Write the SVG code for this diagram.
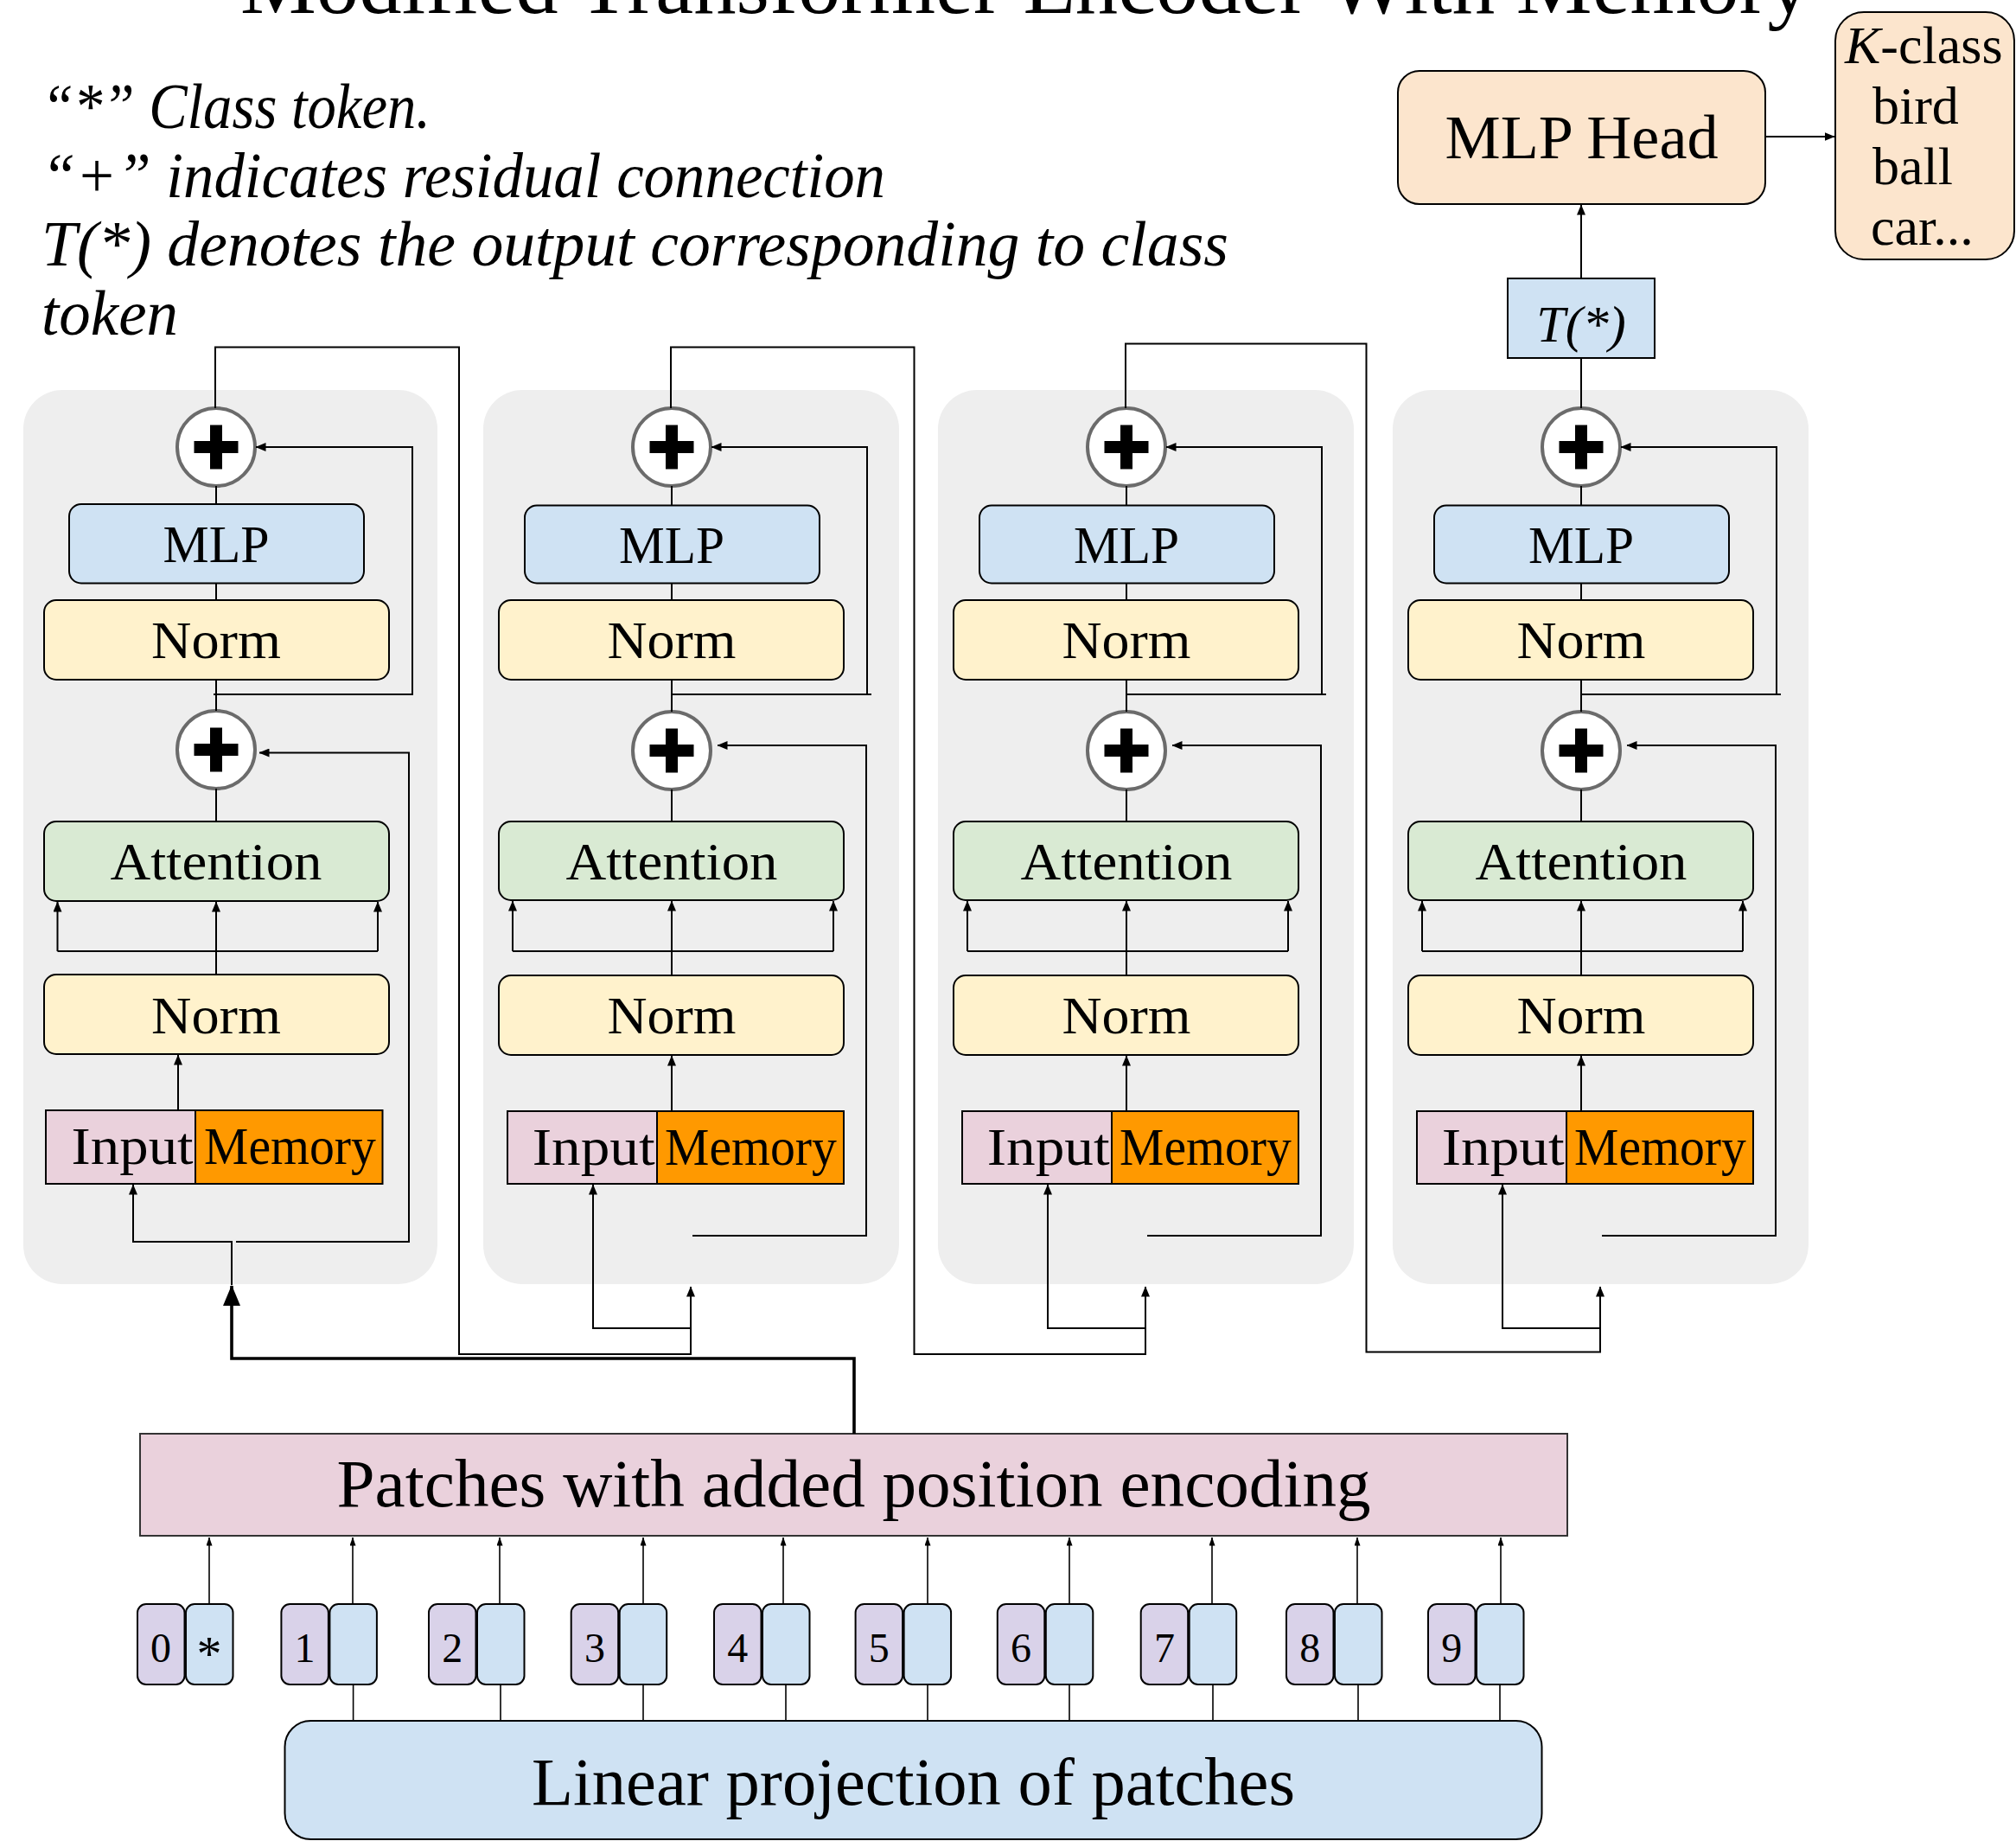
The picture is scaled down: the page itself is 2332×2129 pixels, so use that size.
<svg xmlns="http://www.w3.org/2000/svg" width="2332" height="2129" viewBox="0 0 2332 2129">
<defs>
<style>
.bg{fill:#eeeeee}
.bx{stroke:#000;stroke-width:2}
.mlp{fill:#cfe2f3}
.norm{fill:#fff2cc}
.att{fill:#d9ead3}
.inp{fill:#ead1dc}
.mem{fill:#ff9900}
.pur{fill:#d9d2e9}
.peach{fill:#fce5cd}
.pc{fill:#fff;stroke:#6b6b6b;stroke-width:4}
.pb{fill:#000}
.t{font-family:"Liberation Serif","Times New Roman",serif;fill:#000}
.l{font-size:62px}
.m{text-anchor:middle}
.i{font-style:italic}
.d{font-size:48px}
.c{fill:none;stroke:#000;stroke-width:2}
.cs{fill:none;stroke:#000;stroke-width:1.6}
.ck{fill:none;stroke:#000;stroke-width:3.6}
</style>
<marker id="ah" viewBox="0 0 12 10" refX="11.5" refY="5" markerWidth="12" markerHeight="10" markerUnits="userSpaceOnUse" orient="auto"><path d="M0,0L12,5L0,10z" fill="#000"/></marker>
<marker id="ahs" viewBox="0 0 10 7" refX="9.5" refY="3.5" markerWidth="10" markerHeight="7" markerUnits="userSpaceOnUse" orient="auto"><path d="M0,0L10,3.5L0,7z" fill="#000"/></marker>
<marker id="aht" viewBox="0 0 24 20" refX="23" refY="10" markerWidth="24" markerHeight="20" markerUnits="userSpaceOnUse" orient="auto"><path d="M0,0L24,10L0,20z" fill="#000"/></marker>
<g id="plus"><rect class="pb" x="-25.5" y="-7" width="51" height="14"/><rect class="pb" x="-7" y="-25.5" width="14" height="51"/></g>
</defs>
<rect width="2332" height="2129" fill="#fff"/>

<text class="t" x="278" y="15" font-size="98" textLength="1816" lengthAdjust="spacingAndGlyphs">Modified Transformer Encoder With Memory</text>

<g id="notes" class="t i" font-size="73">
<text x="48" y="148" textLength="450" lengthAdjust="spacingAndGlyphs">“*” Class token.</text>
<text x="48" y="228" textLength="976" lengthAdjust="spacingAndGlyphs">“+” indicates residual connection</text>
<text x="48" y="307" textLength="1373" lengthAdjust="spacingAndGlyphs">T(*) denotes the output corresponding to class</text>
<text x="48" y="387" textLength="158" lengthAdjust="spacingAndGlyphs">token</text>
</g>

<!-- Block 1 -->
<g id="block1">
<rect class="bg" x="27" y="451" width="479" height="1034" rx="45"/>
<g id="b1-add2"><circle class="pc" cx="250" cy="517" r="45"/><use href="#plus" x="250" y="517"/></g>
<g id="b1-mlp"><rect class="bx mlp" x="80" y="583" width="341" height="91.5" rx="14"/><text class="t l m" x="250" y="650" textLength="123" lengthAdjust="spacingAndGlyphs">MLP</text></g>
<g id="b1-norm2"><rect class="bx norm" x="51" y="694" width="399" height="92" rx="14"/><text class="t l m" x="250" y="760.5" textLength="150" lengthAdjust="spacingAndGlyphs">Norm</text></g>
<g id="b1-add1"><circle class="pc" cx="250" cy="867" r="45"/><use href="#plus" x="250" y="867"/></g>
<g id="b1-att"><rect class="bx att" x="51" y="950" width="399" height="92" rx="14"/><text class="t l m" x="250" y="1017" textLength="245" lengthAdjust="spacingAndGlyphs">Attention</text></g>
<g id="b1-norm1"><rect class="bx norm" x="51" y="1127" width="399" height="92" rx="14"/><text class="t l m" x="250" y="1194.5" textLength="150" lengthAdjust="spacingAndGlyphs">Norm</text></g>
<g id="b1-input"><rect class="bx inp" x="53" y="1284" width="173" height="85"/><text class="t l" x="82.6" y="1346" textLength="141" lengthAdjust="spacingAndGlyphs">Input</text></g>
<g id="b1-memory"><rect class="bx mem" x="226" y="1284" width="216.5" height="85"/><text class="t l" x="236" y="1346" textLength="199" lengthAdjust="spacingAndGlyphs">Memory</text></g>
</g>

<!-- Block 2 -->
<g id="block2">
<rect class="bg" x="559" y="451" width="481" height="1034" rx="45"/>
<g id="b2-add2"><circle class="pc" cx="777" cy="517" r="45"/><use href="#plus" x="777" y="517"/></g>
<g id="b2-mlp"><rect class="bx mlp" x="607" y="584.5" width="341" height="90" rx="14"/><text class="t l m" x="777" y="651" textLength="122" lengthAdjust="spacingAndGlyphs">MLP</text></g>
<g id="b2-norm2"><rect class="bx norm" x="577" y="694" width="399" height="92" rx="14"/><text class="t l m" x="777" y="760.5" textLength="149" lengthAdjust="spacingAndGlyphs">Norm</text></g>
<g id="b2-add1"><circle class="pc" cx="777" cy="868" r="45"/><use href="#plus" x="777" y="868"/></g>
<g id="b2-att"><rect class="bx att" x="577" y="950" width="399" height="91" rx="14"/><text class="t l m" x="777" y="1017" textLength="245" lengthAdjust="spacingAndGlyphs">Attention</text></g>
<g id="b2-norm1"><rect class="bx norm" x="577" y="1128" width="399" height="92" rx="14"/><text class="t l m" x="777" y="1194.5" textLength="149" lengthAdjust="spacingAndGlyphs">Norm</text></g>
<g id="b2-input"><rect class="bx inp" x="587" y="1285" width="173" height="84"/><text class="t l" x="615.7" y="1347" textLength="142" lengthAdjust="spacingAndGlyphs">Input</text></g>
<g id="b2-memory"><rect class="bx mem" x="760" y="1285" width="216" height="84"/><text class="t l" x="769" y="1347" textLength="199" lengthAdjust="spacingAndGlyphs">Memory</text></g>
</g>

<!-- Block 3 -->
<g id="block3" transform="translate(526,0)">
<rect class="bg" x="559" y="451" width="481" height="1034" rx="45"/>
<g id="b3-add2"><circle class="pc" cx="777" cy="517" r="45"/><use href="#plus" x="777" y="517"/></g>
<g id="b3-mlp"><rect class="bx mlp" x="607" y="584.5" width="341" height="90" rx="14"/><text class="t l m" x="777" y="651" textLength="122" lengthAdjust="spacingAndGlyphs">MLP</text></g>
<g id="b3-norm2"><rect class="bx norm" x="577" y="694" width="399" height="92" rx="14"/><text class="t l m" x="777" y="760.5" textLength="149" lengthAdjust="spacingAndGlyphs">Norm</text></g>
<g id="b3-add1"><circle class="pc" cx="777" cy="868" r="45"/><use href="#plus" x="777" y="868"/></g>
<g id="b3-att"><rect class="bx att" x="577" y="950" width="399" height="91" rx="14"/><text class="t l m" x="777" y="1017" textLength="245" lengthAdjust="spacingAndGlyphs">Attention</text></g>
<g id="b3-norm1"><rect class="bx norm" x="577" y="1128" width="399" height="92" rx="14"/><text class="t l m" x="777" y="1194.5" textLength="149" lengthAdjust="spacingAndGlyphs">Norm</text></g>
<g id="b3-input"><rect class="bx inp" x="587" y="1285" width="173" height="84"/><text class="t l" x="615.7" y="1347" textLength="142" lengthAdjust="spacingAndGlyphs">Input</text></g>
<g id="b3-memory"><rect class="bx mem" x="760" y="1285" width="216" height="84"/><text class="t l" x="769" y="1347" textLength="199" lengthAdjust="spacingAndGlyphs">Memory</text></g>
</g>

<!-- Block 4 -->
<g id="block4" transform="translate(1052,0)">
<rect class="bg" x="559" y="451" width="481" height="1034" rx="45"/>
<g id="b4-add2"><circle class="pc" cx="777" cy="517" r="45"/><use href="#plus" x="777" y="517"/></g>
<g id="b4-mlp"><rect class="bx mlp" x="607" y="584.5" width="341" height="90" rx="14"/><text class="t l m" x="777" y="651" textLength="122" lengthAdjust="spacingAndGlyphs">MLP</text></g>
<g id="b4-norm2"><rect class="bx norm" x="577" y="694" width="399" height="92" rx="14"/><text class="t l m" x="777" y="760.5" textLength="149" lengthAdjust="spacingAndGlyphs">Norm</text></g>
<g id="b4-add1"><circle class="pc" cx="777" cy="868" r="45"/><use href="#plus" x="777" y="868"/></g>
<g id="b4-att"><rect class="bx att" x="577" y="950" width="399" height="91" rx="14"/><text class="t l m" x="777" y="1017" textLength="245" lengthAdjust="spacingAndGlyphs">Attention</text></g>
<g id="b4-norm1"><rect class="bx norm" x="577" y="1128" width="399" height="92" rx="14"/><text class="t l m" x="777" y="1194.5" textLength="149" lengthAdjust="spacingAndGlyphs">Norm</text></g>
<g id="b4-input"><rect class="bx inp" x="587" y="1285" width="173" height="84"/><text class="t l" x="615.7" y="1347" textLength="142" lengthAdjust="spacingAndGlyphs">Input</text></g>
<g id="b4-memory"><rect class="bx mem" x="760" y="1285" width="216" height="84"/><text class="t l" x="769" y="1347" textLength="199" lengthAdjust="spacingAndGlyphs">Memory</text></g>
</g>

<g id="tstar"><rect class="bx mlp" x="1744" y="322" width="170" height="92"/><text class="t i m" x="1829" y="395" font-size="60">T(*)</text></g>
<g id="mlphead"><rect class="bx peach" x="1617" y="82" width="425" height="154" rx="25"/><text class="t m" x="1829.5" y="183" font-size="72" textLength="316" lengthAdjust="spacingAndGlyphs">MLP Head</text></g>
<g id="classes"><rect class="bx peach" x="2123" y="14" width="207" height="286" rx="33"/>
<text class="t" x="2134" y="73" font-size="62"><tspan font-style="italic">K</tspan>-class</text>
<text class="t" x="2166" y="143" font-size="62">bird</text>
<text class="t" x="2166" y="213" font-size="62">ball</text>
<text class="t" x="2164" y="283" font-size="62">car...</text>
</g>

<g id="patches"><rect x="162" y="1658" width="1651" height="118" fill="#ead1dc" stroke="#333" stroke-width="2"/><text class="t m" x="987.6" y="1742" font-size="79" textLength="1196" lengthAdjust="spacingAndGlyphs">Patches with added position encoding</text></g>
<g id="linear"><rect class="bx mlp" x="329.5" y="1990" width="1454" height="137" rx="30"/><text class="t m" x="1056.5" y="2087" font-size="79" textLength="883" lengthAdjust="spacingAndGlyphs">Linear projection of patches</text></g>

<g id="tokens" class="t">
<g id="token0"><rect class="bx pur" x="159" y="1855" width="54.5" height="93" rx="10"/><rect class="bx mlp" x="215" y="1855" width="54.5" height="93" rx="10"/><text class="m d" x="186" y="1922">0</text><text class="m" x="242" y="1932" font-size="58">*</text></g>
<g id="token1"><rect class="bx pur" x="325.4" y="1855" width="54.5" height="93" rx="10"/><rect class="bx mlp" x="381.4" y="1855" width="54.5" height="93" rx="10"/><text class="m d" x="352.6" y="1922">1</text></g>
<g id="token2"><rect class="bx pur" x="496" y="1855" width="54.5" height="93" rx="10"/><rect class="bx mlp" x="552" y="1855" width="54.5" height="93" rx="10"/><text class="m d" x="523.2" y="1922">2</text></g>
<g id="token3"><rect class="bx pur" x="660.7" y="1855" width="54.5" height="93" rx="10"/><rect class="bx mlp" x="716.7" y="1855" width="54.5" height="93" rx="10"/><text class="m d" x="688" y="1922">3</text></g>
<g id="token4"><rect class="bx pur" x="826" y="1855" width="54.5" height="93" rx="10"/><rect class="bx mlp" x="882" y="1855" width="54.5" height="93" rx="10"/><text class="m d" x="853.2" y="1922">4</text></g>
<g id="token5"><rect class="bx pur" x="989.6" y="1855" width="54.5" height="93" rx="10"/><rect class="bx mlp" x="1045.6" y="1855" width="54.5" height="93" rx="10"/><text class="m d" x="1016.8" y="1922">5</text></g>
<g id="token6"><rect class="bx pur" x="1153.8" y="1855" width="54.5" height="93" rx="10"/><rect class="bx mlp" x="1209.8" y="1855" width="54.5" height="93" rx="10"/><text class="m d" x="1181" y="1922">6</text></g>
<g id="token7"><rect class="bx pur" x="1319.7" y="1855" width="54.5" height="93" rx="10"/><rect class="bx mlp" x="1375.7" y="1855" width="54.5" height="93" rx="10"/><text class="m d" x="1347" y="1922">7</text></g>
<g id="token8"><rect class="bx pur" x="1488" y="1855" width="54.5" height="93" rx="10"/><rect class="bx mlp" x="1544" y="1855" width="54.5" height="93" rx="10"/><text class="m d" x="1515.2" y="1922">8</text></g>
<g id="token9"><rect class="bx pur" x="1652" y="1855" width="54.5" height="93" rx="10"/><rect class="bx mlp" x="1708" y="1855" width="54.5" height="93" rx="10"/><text class="m d" x="1679.2" y="1922">9</text></g>
</g>

<g id="connectors">
<!-- block 1 internal -->
<g class="c">
<path d="M250,562V583"/>
<path d="M250,674.5V694"/>
<path d="M250,786V822"/>
<path d="M250,912V950"/>
<path d="M250,1127V1043" marker-end="url(#ah)"/>
<path d="M66.5,1100H437"/>
<path d="M66.5,1100V1043" marker-end="url(#ah)"/>
<path d="M437,1100V1043" marker-end="url(#ah)"/>
<path d="M206,1284V1220" marker-end="url(#ah)"/>
<path d="M247,803H477V517H296" marker-end="url(#ah)"/>
<path d="M273,1436H473V870.5H300" marker-end="url(#ah)"/>
<path d="M268,1486V1436H154V1370" marker-end="url(#ah)"/>
</g>
<!-- blocks 2-4 internal -->
<g id="conn-b2" class="c">
<path d="M777,562V584.5"/>
<path d="M777,674.5V694"/>
<path d="M777,786V823"/>
<path d="M777,913V950"/>
<path d="M777,1128V1042" marker-end="url(#ah)"/>
<path d="M593,1100H964"/>
<path d="M593,1100V1042" marker-end="url(#ah)"/>
<path d="M964,1100V1042" marker-end="url(#ah)"/>
<path d="M777,1285V1221" marker-end="url(#ah)"/>
<path d="M777,803H1008"/>
<path d="M1003,803V517H823" marker-end="url(#ah)"/>
<path d="M801,1429H1002V862H830" marker-end="url(#ah)"/>
<path d="M799,1536H686V1370" marker-end="url(#ah)"/>
</g>
<g class="c" transform="translate(526,0)">
<path d="M777,562V584.5"/>
<path d="M777,674.5V694"/>
<path d="M777,786V823"/>
<path d="M777,913V950"/>
<path d="M777,1128V1042" marker-end="url(#ah)"/>
<path d="M593,1100H964"/>
<path d="M593,1100V1042" marker-end="url(#ah)"/>
<path d="M964,1100V1042" marker-end="url(#ah)"/>
<path d="M777,1285V1221" marker-end="url(#ah)"/>
<path d="M777,803H1008"/>
<path d="M1003,803V517H823" marker-end="url(#ah)"/>
<path d="M801,1429H1002V862H830" marker-end="url(#ah)"/>
<path d="M799,1536H686V1370" marker-end="url(#ah)"/>
</g>
<g class="c" transform="translate(1052,0)">
<path d="M777,562V584.5"/>
<path d="M777,674.5V694"/>
<path d="M777,786V823"/>
<path d="M777,913V950"/>
<path d="M777,1128V1042" marker-end="url(#ah)"/>
<path d="M593,1100H964"/>
<path d="M593,1100V1042" marker-end="url(#ah)"/>
<path d="M964,1100V1042" marker-end="url(#ah)"/>
<path d="M777,1285V1221" marker-end="url(#ah)"/>
<path d="M777,803H1008"/>
<path d="M1003,803V517H823" marker-end="url(#ah)"/>
<path d="M801,1429H1002V862H830" marker-end="url(#ah)"/>
<path d="M799,1536H686V1370" marker-end="url(#ah)"/>
</g>
<!-- block to block -->
<g class="c">
<path d="M249,472V401.5H531V1566H799V1488" marker-end="url(#ah)"/>
<path d="M776,472V401.5H1057.5V1566H1325V1488" marker-end="url(#ah)"/>
<path d="M1302,472V397.5H1580.5V1563.5H1851V1488" marker-end="url(#ah)"/>
<path d="M1829,472V414"/>
<path d="M1829,322V237" marker-end="url(#ah)"/>
<path d="M2042,158H2122" marker-end="url(#ah)"/>
</g>
<path class="ck" d="M988,1658V1571H268V1487" marker-end="url(#aht)"/>
<!-- tokens to patches -->
<g class="cs">
<path d="M242,1855V1778" marker-end="url(#ahs)"/>
<path d="M408,1855V1778" marker-end="url(#ahs)"/>
<path d="M578,1855V1778" marker-end="url(#ahs)"/>
<path d="M744,1855V1778" marker-end="url(#ahs)"/>
<path d="M906,1855V1778" marker-end="url(#ahs)"/>
<path d="M1073,1855V1778" marker-end="url(#ahs)"/>
<path d="M1237,1855V1778" marker-end="url(#ahs)"/>
<path d="M1402,1855V1778" marker-end="url(#ahs)"/>
<path d="M1570,1855V1778" marker-end="url(#ahs)"/>
<path d="M1736,1855V1778" marker-end="url(#ahs)"/>
<path d="M408.6,1990V1948"/>
<path d="M579,1990V1948"/>
<path d="M744,1990V1948"/>
<path d="M909,1990V1948"/>
<path d="M1073,1990V1948"/>
<path d="M1237,1990V1948"/>
<path d="M1403,1990V1948"/>
<path d="M1571,1990V1948"/>
<path d="M1735,1990V1948"/>
</g>
</g>
</svg>
